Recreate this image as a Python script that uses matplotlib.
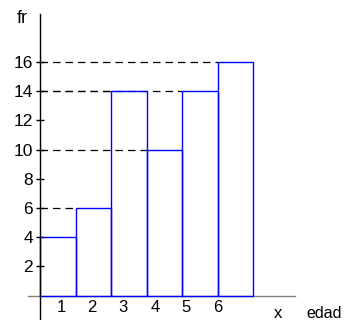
import matplotlib
matplotlib.use("Agg")
import matplotlib.pyplot as plt

plt.rcParams['font.family'] = ['Liberation Sans', 'DejaVu Sans']

heights = [4, 6, 14, 10, 14, 16]
yticks = [2, 4, 6, 8, 10, 12, 14, 16]
xlabels = ['1', '2', '3', '4', '5', '6']
xlabel_pos = [0.61, 1.46, 2.34, 3.24, 4.11, 5.0]

fig = plt.figure(figsize=(3.48, 3.2), dpi=100)
ax = fig.add_axes([0, 0, 1, 1])
ax.set_xlim(-1.127, 8.676)
ax.set_ylim(-1.678, 20.24)

lefts = list(range(len(heights)))
# dashed guide lines
for i, h in enumerate(heights):
    if i > 0:
        ax.plot([0, i], [h, h], color='black', lw=0.9, ls=(0, (6, 4)), zorder=1)

ax.bar(lefts, heights, width=1, align='edge', fill=False, edgecolor='#0000ff', lw=1.0, zorder=3)

for s in ['top', 'right']:
    ax.spines[s].set_visible(False)
ax.spines['left'].set_position(('data', 0))
ax.spines['bottom'].set_position(('data', 0))
ax.spines['left'].set_bounds(-1.678, 19.28)
ax.spines['bottom'].set_bounds(-0.338, 7.18)
ax.spines['bottom'].set_color('#808080')
ax.spines['left'].set_color('black')
ax.spines['left'].set_linewidth(1.0)
ax.spines['bottom'].set_linewidth(1.0)
ax.spines['left'].set_zorder(4)

ax.set_yticks(yticks)
ax.set_yticklabels([str(t) for t in yticks])
ax.tick_params(axis='y', direction='inout', length=6, width=1, labelsize=12.5, pad=2)
ax.set_xticks([])

for lab, p in zip(xlabels, xlabel_pos):
    ax.text(p, -0.82, lab, ha='center', va='center', fontsize=12)
ax.text(6.70, -1.2, 'x', ha='center', va='center', fontsize=12)
ax.text(8.0, -1.2, 'edad', ha='center', va='center', fontsize=11.5)
ax.text(-0.507, 19.0, 'fr', ha='center', va='center', fontsize=13)

fig.savefig('out.png', dpi=100)
